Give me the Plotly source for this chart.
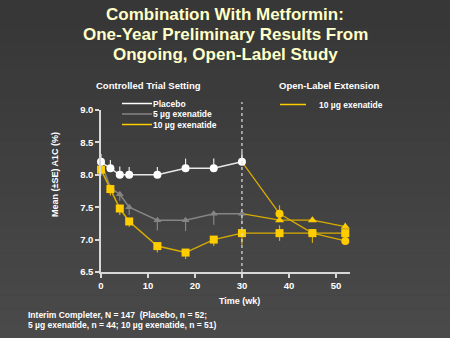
import plotly.graph_objects as go

# ---- data -------------------------------------------------------------
weeks_ct = [0, 2, 4, 6, 12, 18, 24, 30]
placebo = [8.2, 8.1, 8.0, 8.0, 8.0, 8.1, 8.1, 8.2]
placebo_se = [0.12, 0.13, 0.13, 0.12, 0.12, 0.15, 0.15, 0.15]
exe5 = [8.2, 7.8, 7.7, 7.5, 7.3, 7.3, 7.4, 7.4]
exe5_se = [0.1, 0.1, 0.1, 0.12, 0.16, 0.17, 0.17, 0.15]
exe10 = [8.08, 7.78, 7.48, 7.28, 6.9, 6.8, 7.0, 7.1]
exe10_se = [0.1, 0.1, 0.1, 0.08, 0.1, 0.1, 0.1, 0.18]

weeks_ol = [30, 38, 45, 52]
ol_from_placebo = [8.2, 7.4, 7.1, 6.98]
ol_from_placebo_up = [0, 0.13, 0, 0]
ol_from_placebo_dn = [0, 0, 0.15, 0]
ol_from_5 = [7.4, 7.3, 7.3, 7.2]
ol_from_5_up = [0, 0.12, 0.05, 0.06]
ol_from_5_dn = [0, 0, 0, 0]
ol_from_10 = [7.1, 7.1, 7.1, 7.1]
ol_from_10_up = [0, 0.12, 0, 0.05]
ol_from_10_dn = [0, 0.12, 0, 0.05]

x_ticks = [0, 10, 20, 30, 40, 50]
y_ticks = [6.5, 7.0, 7.5, 8.0, 8.5, 9.0]

# ---- style ------------------------------------------------------------
WHITE = "#ffffff"
GREY = "#858585"
GOLD = "#ffcc00"
GOLD_LINE = "#d9ad00"
AXIS = "#d8d8d8"
FONT = "Liberation Sans, Arial, sans-serif"

W, H = 450, 338
L, T, PW, PH = 101, 110, 249, 162


def px(x):
    return (x - L) / PW


def py(y):
    return (T + PH - y) / PH


fig = go.Figure()

# open-label extension (all switched to 10 ug exenatide)
for yv, up, dn, sym in [
    (ol_from_10, ol_from_10_up, ol_from_10_dn, "square"),
    (ol_from_5, ol_from_5_up, ol_from_5_dn, "triangle-up"),
    (ol_from_placebo, ol_from_placebo_up, ol_from_placebo_dn, "circle"),
]:
    fig.add_trace(go.Scatter(
        x=weeks_ol, y=yv, mode="lines+markers", cliponaxis=False,
        line=dict(color=GOLD_LINE, width=1.2),
        marker=dict(symbol=sym, size=[0, 8, 8, 8], color=GOLD, opacity=1,
                    line=dict(width=0)),
        error_y=dict(type="data", symmetric=False, array=up, arrayminus=dn,
                     color=GOLD_LINE, thickness=1.2, width=0),
        showlegend=False, hoverinfo="skip",
    ))

# controlled trial setting
fig.add_trace(go.Scatter(
    x=weeks_ct, y=exe5, mode="lines+markers", cliponaxis=False,
    line=dict(color=GREY, width=1.5),
    marker=dict(symbol="triangle-up", size=7, color=GREY),
    error_y=dict(type="data", symmetric=False, array=[0] * 8, arrayminus=exe5_se,
                 color=GREY, thickness=1.2, width=0),
    showlegend=False,
))
fig.add_trace(go.Scatter(
    x=weeks_ct, y=exe10, mode="lines+markers", cliponaxis=False,
    line=dict(color=GOLD_LINE, width=1.5),
    marker=dict(symbol="square", size=8, color=GOLD),
    error_y=dict(type="data", symmetric=False, array=[0] * 8, arrayminus=exe10_se,
                 color=GOLD_LINE, thickness=1.2, width=0),
    showlegend=False,
))
fig.add_trace(go.Scatter(
    x=weeks_ct, y=placebo, mode="lines+markers", cliponaxis=False,
    line=dict(color="#e8e8e8", width=1.5),
    marker=dict(symbol="circle", size=8, color=WHITE),
    error_y=dict(type="data", symmetric=False, array=placebo_se, arrayminus=[0] * 8,
                 color="#e8e8e8", thickness=1.2, width=0),
    showlegend=False,
))

shapes = []
# background gradient
n_bands = 24
for i in range(n_bands):
    f = i / (n_bands - 1)
    c = int(0x37 + (0x4a - 0x37) * f)
    shapes.append(dict(type="rect", xref="paper", yref="paper", layer="below",
                       x0=px(0), x1=px(W), y0=py(H * (i + 1) / n_bands), y1=py(H * i / n_bands),
                       fillcolor=f"rgb({c},{c},{c})", line=dict(width=0)))

# boundary between controlled trial and open-label extension
shapes.append(dict(type="line", xref="x", yref="paper", x0=30, x1=30,
                   y0=0, y1=py(102), line=dict(color="#e0e0e0", width=1.2, dash="dot")))

annotations = []


def text(x, y, s, size=8, color=WHITE, xanchor="left", bold=True, **kw):
    annotations.append(dict(xref="paper", yref="paper", x=px(x), y=py(y), text=f"<b>{s}</b>" if bold else s,
                            showarrow=False, xanchor=xanchor, yanchor="middle",
                            font=dict(family=FONT, size=size, color=color), **kw))


# legends
for yy, col, lab in [(103.5, WHITE, "Placebo"), (114, GREY, "5 µg exenatide"), (124.5, GOLD, "10 µg exenatide")]:
    shapes.append(dict(type="line", xref="paper", yref="paper", x0=px(122), x1=px(152), y0=py(yy), y1=py(yy),
                       line=dict(color=col, width=1.5)))
    text(151, yy, lab, size=8.5)
shapes.append(dict(type="line", xref="paper", yref="paper", x0=px(280), x1=px(306), y0=py(104.5), y1=py(104.5),
                   line=dict(color=GOLD, width=1.5)))
text(317, 104.5, "10 µg exenatide", size=8.5)

# headings and notes
text(225, 14.5, "Combination With Metformin:", size=17, color="#ffffc8", xanchor="center")
text(225, 34.5, "One-Year Preliminary Results From", size=17, color="#ffffc8", xanchor="center")
text(225, 54.5, "Ongoing, Open-Label Study", size=17, color="#ffffc8", xanchor="center")
text(94, 85, "Controlled Trial Setting", size=9.5)
text(277, 85, "Open-Label Extension", size=9.5)
text(239, 301, "Time (wk)", size=9, xanchor="center")
text(26, 314.5, "Interim Completer, N = 147  (Placebo, n = 52;", size=8.5)
text(26, 325, "5 µg exenatide, n = 44; 10 µg exenatide, n = 51)", size=8.5)
annotations.append(dict(xref="paper", yref="paper", x=px(55), y=py(175), text="<b>Mean (±SE) A1C (%)</b>",
                        showarrow=False, textangle=-90, xanchor="center", yanchor="middle",
                        font=dict(family=FONT, size=9, color=WHITE)))

fig.update_layout(
    width=W, height=H,
    margin=dict(l=L, r=W - L - PW, t=T, b=H - T - PH),
    paper_bgcolor="#404040", plot_bgcolor="rgba(0,0,0,0)",
    shapes=shapes, annotations=annotations, showlegend=False,
    xaxis=dict(range=[0, 53], tickvals=x_ticks, ticktext=[f"<b>{v}</b>" for v in x_ticks],
               showgrid=False, zeroline=False,
               showline=True, linecolor=AXIS, linewidth=1.5, ticks="outside", ticklen=4,
               tickcolor=AXIS, tickwidth=1.5, tickfont=dict(family=FONT, size=9.5, color=WHITE)),
    yaxis=dict(range=[6.5, 9.0], tickvals=y_ticks, ticktext=[f"<b>{v:.1f}</b>" for v in y_ticks],
               showgrid=False, zeroline=False, showline=True, linecolor=AXIS, linewidth=1.5,
               ticks="outside", ticklen=4, tickcolor=AXIS, tickwidth=1.5,
               tickfont=dict(family=FONT, size=9.5, color=WHITE)),
)

fig.write_html("out.html")
